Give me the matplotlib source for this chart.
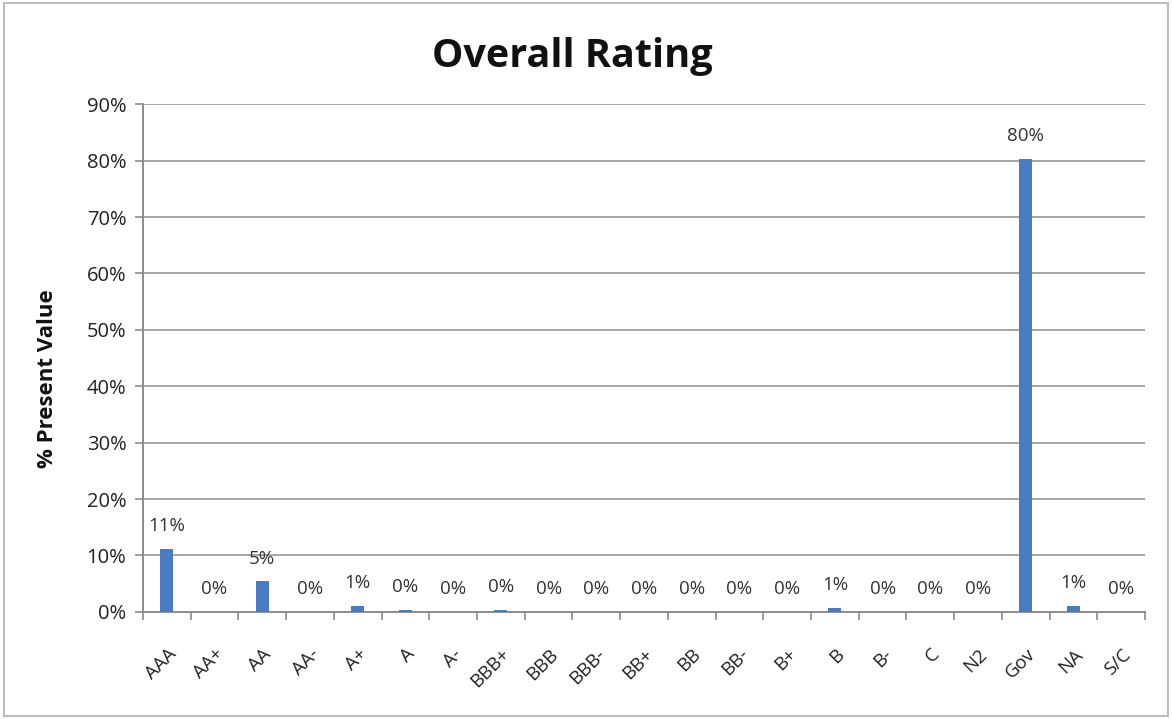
import matplotlib
matplotlib.use("Agg")
import matplotlib.pyplot as plt
from matplotlib.patches import Rectangle
from matplotlib.ticker import PercentFormatter, FixedLocator

ratings = ["AAA", "AA+", "AA", "AA-", "A+", "A", "A-", "BBB+", "BBB", "BBB-",
           "BB+", "BB", "BB-", "B+", "B", "B-", "C", "N2", "Gov", "NA", "S/C"]
share = [0.112, 0.0, 0.054, 0.0, 0.011, 0.004, 0.0, 0.003, 0.0, 0.0,
         0.0, 0.0, 0.0, 0.0, 0.007, 0.0, 0.0, 0.0, 0.803, 0.010, 0.0]

plt.rcParams["font.family"] = ["Open Sans", "DejaVu Sans"]

fig = plt.figure(figsize=(11.72, 7.19), dpi=100)
ax = fig.add_axes([0.122, 0.149, 0.855, 0.706])

x = range(len(ratings))
bars = ax.bar(x, share, width=0.27, color="#4a7cc4", zorder=3)

# percentage label above every bar, zero bars included
for b, v in zip(bars, share):
    ax.annotate(f"{v:.0%}", (b.get_x() + b.get_width() / 2, v),
                xytext=(0, 10), textcoords="offset points",
                ha="center", va="bottom", fontsize=13.5, color="#333333")

ax.set_xlim(-0.5, len(ratings) - 0.5)
ax.set_ylim(0, 0.9)
ax.yaxis.set_major_locator(FixedLocator([i / 10 for i in range(10)]))
ax.yaxis.set_major_formatter(PercentFormatter(1.0, decimals=0))
ax.grid(axis="y", color="#a6a6a6", linewidth=1.4, zorder=0)

# labels under the bars, tick marks between categories
ax.set_xticks(list(x))
ax.set_xticklabels(ratings, rotation=45, ha="right", va="top",
                   rotation_mode="anchor", fontsize=13.5, color="#222222")
ax.set_xticks([i - 0.5 for i in range(len(ratings) + 1)], minor=True)
ax.tick_params(axis="x", which="major", length=0, pad=24)
ax.tick_params(axis="x", which="minor", length=6, color="#8c8c8c", width=1.2)
ax.tick_params(axis="y", length=6, color="#8c8c8c", width=1.2,
               labelsize=14.5, labelcolor="#222222", pad=6)

for side in ["top", "right"]:
    ax.spines[side].set_visible(False)
for side in ["left", "bottom"]:
    ax.spines[side].set_color("#8c8c8c")
    ax.spines[side].set_linewidth(1.4)

ax.set_ylabel("% Present Value", fontsize=16, fontweight="bold",
              color="#111111")
ax.yaxis.set_label_coords(-0.085, 0.46)
fig.text(0.488, 0.922, "Overall Rating", ha="center", va="center",
         fontsize=28.5, fontweight="bold", color="#111111")

fig.patches.append(Rectangle((0.003, 0.004), 0.994, 0.992,
                             transform=fig.transFigure, fill=False,
                             edgecolor="#bdbdbd", linewidth=1.5))

fig.savefig("out.png", dpi=100, facecolor="white")
